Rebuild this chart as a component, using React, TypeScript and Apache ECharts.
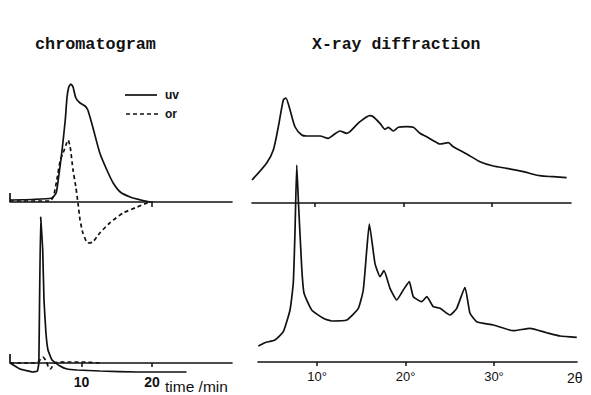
import React, { useEffect, useRef } from "react";
import * as echarts from "echarts";

// time (min), detector response (arbitrary units)
const uvTop: number[][] = [
  [-0.14, 2], [3, 2.5], [5.8, 4], [6.4, 9], [6.7, 22], [7.2, 49], [7.7, 82], [7.95, 105],
  [8.2, 115], [8.5, 118], [8.8, 115], [9.2, 104], [9.8, 99], [10.5, 96], [10.9, 92],
  [11.6, 75], [12.6, 49], [13.6, 32], [14.5, 19], [15.5, 10], [16.9, 5], [18.7, 1.5], [19.8, 0],
];
const orTop: number[][] = [
  [-0.14, 1], [5.5, 1], [6.0, 5], [6.5, 22], [7.0, 42], [7.4, 49], [7.9, 59], [8.1, 62],
  [8.4, 55], [8.8, 32], [9.2, 15], [9.5, -1], [9.8, -18], [10.2, -31], [10.9, -41],
  [11.6, -40], [12.6, -31], [14.0, -21], [15.9, -11], [17.9, -5], [19.3, -1], [20.1, 0],
];
const uvBottom: number[][] = [
  [-0.14, 0], [1.28, -6], [3.1, -9], [3.75, -8], [3.95, 0], [4.21, 146], [4.5, 113],
  [4.68, 63], [4.96, 30], [5.25, 13], [5.82, 3], [6.95, -3], [7.94, -6], [9.36, -7],
  [12.6, -8], [18, -9], [24.9, -9],
];
const orBottom: number[][] = [
  [-0.14, 0], [3.5, 0], [4.0, 2], [4.5, 6], [5.0, 2], [5.3, -4], [5.6, -6], [6.2, 0],
  [8, 1], [10, 1], [12.6, 0],
];
const injectTop: number[][] = [[-0.14, 9], [-0.14, 0]];
const injectBottom: number[][] = [[-0.14, 9], [-0.14, 0]];

// 2θ (degrees), intensity (arbitrary units)
const xrdTop: number[][] = [
  [2.88, 23], [4.54, 40], [5.29, 53], [5.85, 76], [6.42, 103], [6.69, 105], [7.18, 93],
  [7.75, 76], [8.5, 68], [9.06, 67], [10.56, 67], [11.5, 64.7], [12.07, 68], [12.82, 72],
  [13.58, 69.7], [13.95, 71.3], [15.08, 81.3], [16.21, 87.3], [16.58, 86.3], [17.34, 79.7],
  [17.91, 73.7], [18.28, 75.7], [18.85, 72], [19.42, 75.7], [20.36, 76.3], [21.11, 75.7],
  [21.86, 69.7], [22.62, 66.3], [23.37, 62.3], [24.12, 59], [25.06, 60.3], [25.63, 56.3],
  [27.14, 49], [28.64, 41.3], [30.15, 37], [31.66, 34.7], [33.54, 31.3], [35.42, 27.3],
  [36.93, 26.3], [38.44, 25.3],
];
const xrdBottom: number[][] = [
  [3.37, 16], [4.12, 19.3], [5.25, 22], [6.19, 30.3], [6.95, 52], [7.32, 79], [7.51, 129],
  [7.71, 197], [7.89, 162], [8.27, 95], [8.53, 69], [9.4, 52], [10.71, 43.7], [11.66, 41],
  [13.36, 42], [14.67, 53.7], [15.23, 72], [15.62, 112], [15.91, 138], [16.55, 98.7],
  [17.12, 85.3], [17.57, 91.3], [18.25, 73.7], [19.01, 62], [19.75, 72], [20.43, 80.3],
  [20.88, 65.3], [21.83, 60.3], [22.4, 65.3], [23.14, 55.3], [23.9, 53.7], [25.03, 47],
  [25.79, 53.7], [26.72, 74.7], [27.29, 48.7], [28.05, 40.3], [29.92, 37], [32.18, 31.3],
  [34.07, 33.7], [35.95, 29.3], [37.46, 26], [39.35, 24.7],
];

const timeLabels = [10, 20];
const timeTicksTop = [20];
const timeTicksBottom = [10, 20];
const angleTicks = [10, 20, 30];

const INK = "#111";

export default function App() {
  const ref = useRef<HTMLDivElement>(null);
  useEffect(() => {
    if (!ref.current) return;
    const chart = echarts.init(ref.current, null, { renderer: "svg" });
    const line = (data: number[][], xi: number, dashed = false, smooth: number | boolean = 0.2) => ({
      type: "line",
      xAxisIndex: xi,
      yAxisIndex: xi,
      data,
      smooth,
      clip: false,
      showSymbol: false,
      symbol: "none",
      silent: true,
      lineStyle: { color: INK, width: 1.7, type: dashed ? [4, 3] : "solid" },
    });
    const baseX = (extra: any) => ({
      type: "value",
      splitLine: { show: false },
      axisLine: { show: true, onZero: true, lineStyle: { color: INK, width: 1.6 } },
      ...extra,
    });
    const hiddenY = (min: number, max: number, gi: number) => ({
      type: "value",
      gridIndex: gi,
      min,
      max,
      show: false,
      splitLine: { show: false },
    });
    chart.setOption({
      animation: false,
      backgroundColor: "#fff",
      grid: [
        { left: 10, right: 359, top: 82, bottom: 148 },
        { left: 10, right: 359, top: 213, bottom: 32 },
        { left: 252, right: 20, top: 93, bottom: 192 },
        { left: 258, right: 14, top: 162, bottom: 33 },
      ],
      xAxis: [
        baseX({
          gridIndex: 0, min: -0.14, max: 31.35,
          axisTick: { show: true, customValues: timeTicksTop, length: 5, lineStyle: { color: INK, width: 1.5 } },
          axisLabel: { show: false },
        }),
        baseX({
          gridIndex: 1, min: -0.14, max: 31.35,
          axisTick: { show: true, customValues: timeTicksBottom, length: 4, lineStyle: { color: INK, width: 1.5 } },
          axisLabel: {
            show: true, customValues: timeLabels, margin: 12, color: INK,
            fontSize: 14, fontWeight: 600, fontFamily: "Liberation Sans",
          },
        }),
        baseX({
          gridIndex: 2, min: 2.88, max: 38.93,
          axisTick: { show: true, customValues: angleTicks, length: 4, lineStyle: { color: INK, width: 1.5 } },
          axisLabel: { show: false },
        }),
        baseX({
          gridIndex: 3, min: 3.333, max: 39.38,
          axisTick: { show: true, customValues: angleTicks, length: 4, lineStyle: { color: INK, width: 1.5 } },
          axisLabel: {
            show: true, customValues: angleTicks, margin: 8, color: INK,
            fontSize: 13, fontFamily: "Liberation Sans",
            formatter: (v: number) => `${v}°`,
          },
        }),
      ],
      yAxis: [hiddenY(-45, 120, 0), hiddenY(0, 150, 1), hiddenY(0, 110, 2), hiddenY(0, 200, 3)],
      series: [
        line(uvTop, 0),
        line(orTop, 0, true),
        line(injectTop, 0, false, false),
        line(uvBottom, 1, false, 0.1),
        line(orBottom, 1, true),
        line(injectBottom, 1, false, false),
        line(xrdTop, 2, false, 0.25),
        line(xrdBottom, 3, false, 0.15),
      ],
      graphic: [
        {
          type: "text", left: 35, top: 36,
          style: { text: "chromatogram", fill: INK, font: "bold 16.8px 'Liberation Mono'" },
        },
        {
          type: "text", left: 312, top: 36,
          style: { text: "X-ray diffraction", fill: INK, font: "bold 16.5px 'Liberation Mono'" },
        },
        { type: "line", shape: { x1: 125, y1: 95, x2: 157, y2: 95 }, style: { stroke: INK, lineWidth: 1.7 } },
        { type: "line", shape: { x1: 126, y1: 114, x2: 160, y2: 114 }, style: { stroke: INK, lineWidth: 1.7, lineDash: [4, 3] } },
        {
          type: "text", x: 165, y: 95,
          style: { text: "uv", fill: INK, font: "bold 12px 'Liberation Sans'", verticalAlign: "middle" },
        },
        {
          type: "text", x: 165, y: 114,
          style: { text: "or", fill: INK, font: "bold 12px 'Liberation Sans'", verticalAlign: "middle" },
        },
        {
          type: "text", x: 165, y: 386,
          style: { text: "time /min", fill: INK, font: "15.5px 'Liberation Sans'", verticalAlign: "middle" },
        },
        {
          type: "text", x: 567, y: 378,
          style: { text: "2θ", fill: INK, font: "14px 'Liberation Sans'", verticalAlign: "middle" },
        },
      ],
    });
    return () => chart.dispose();
  }, []);
  return (
    <div
      ref={ref}
      style={{ position: "absolute", left: 0, top: 0, width: 591, height: 395, background: "#fff" }}
    />
  );
}
